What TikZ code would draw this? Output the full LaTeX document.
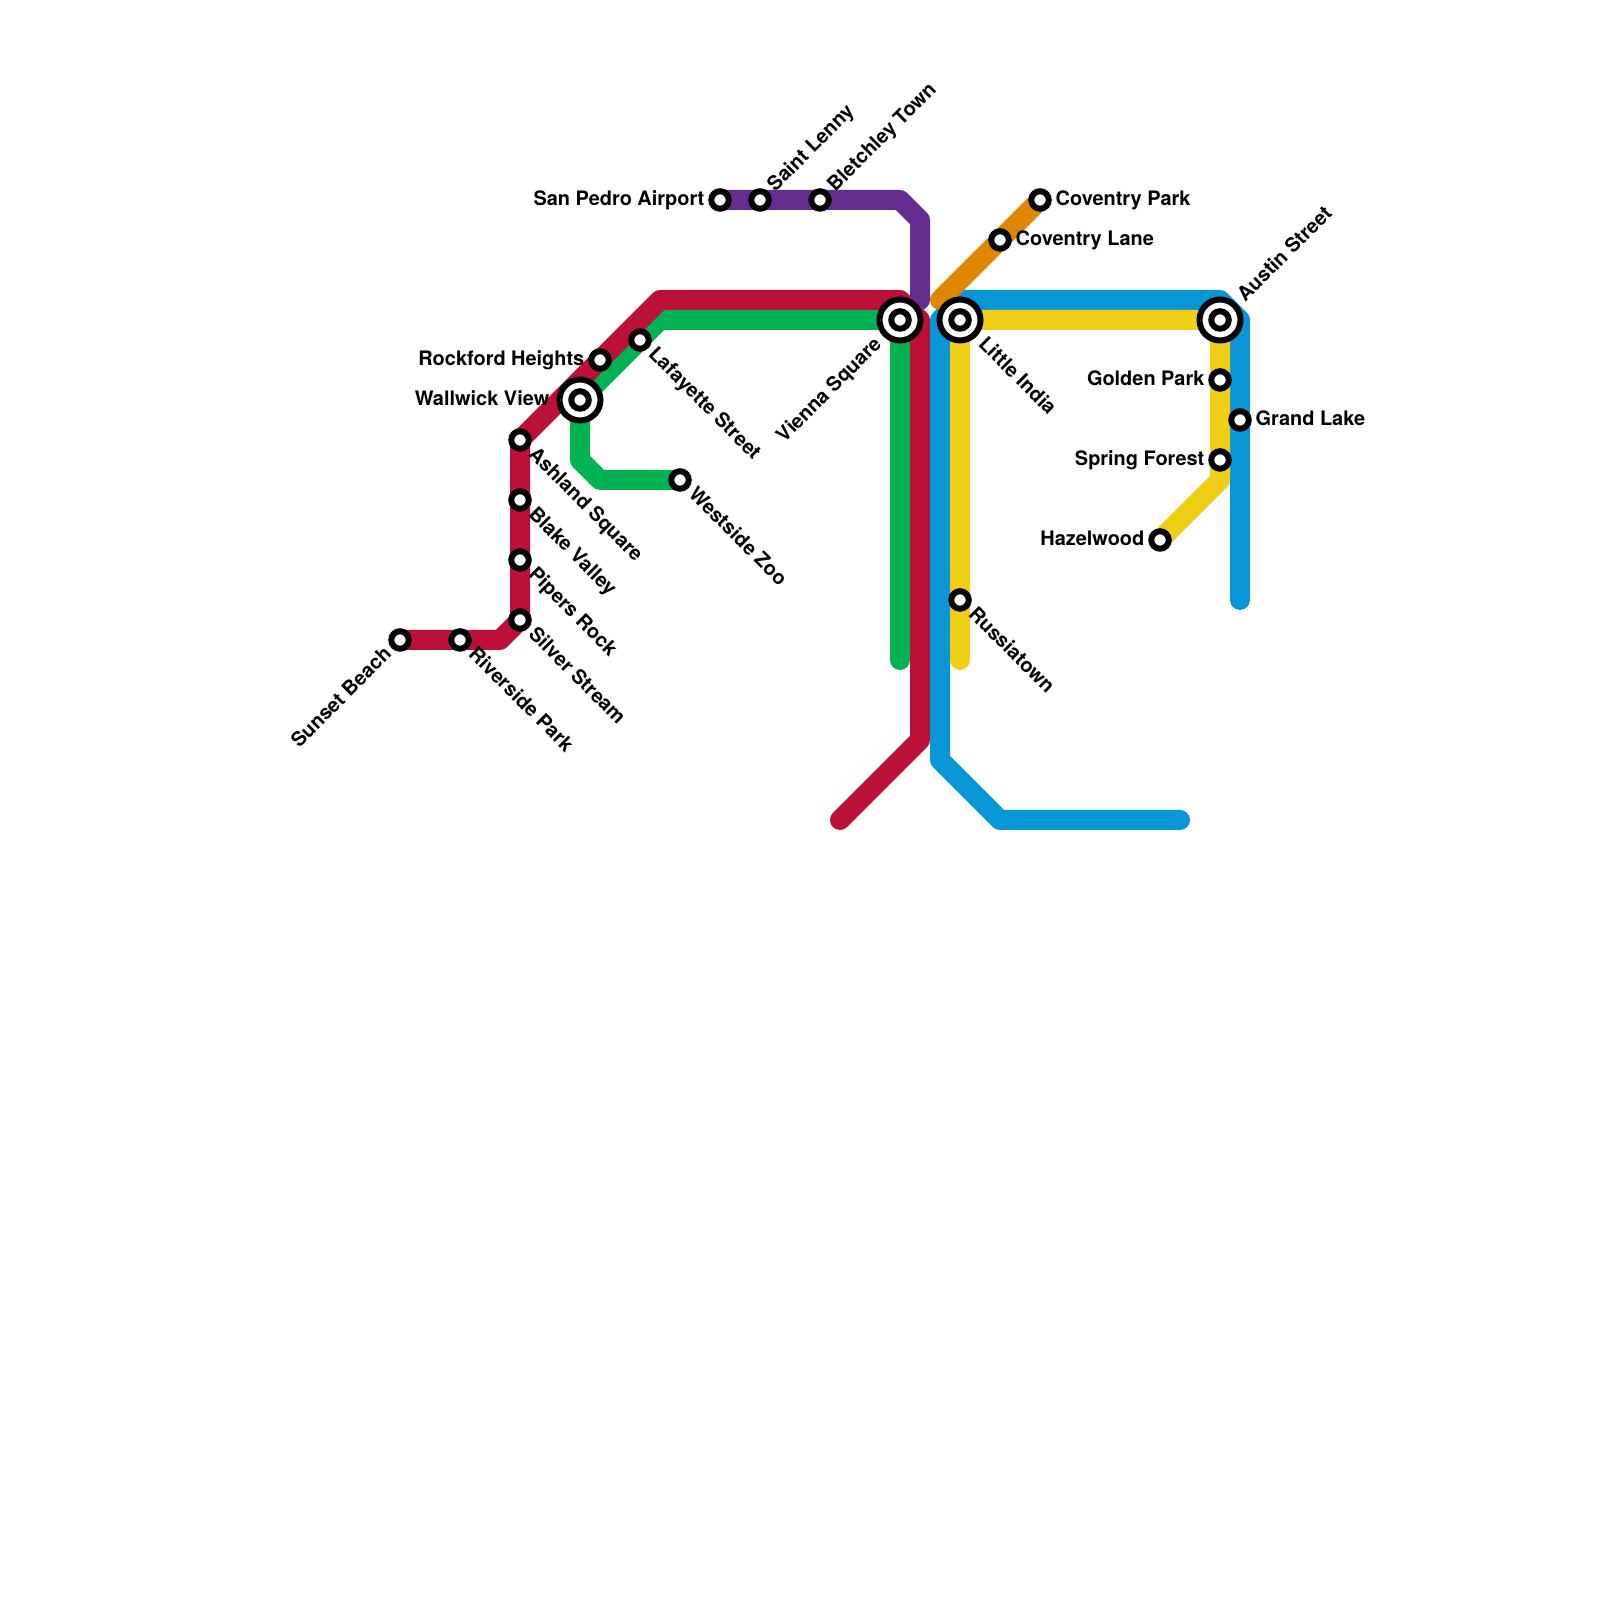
\documentclass[tikz,border=0pt]{standalone}
\usepackage{fontspec}
\setmainfont{TeX Gyre Heros}
\pgfdeclarelayer{lines}
\pgfsetlayers{lines,main}
\definecolor{redline}{HTML}{BD1038}
\definecolor{greenline}{HTML}{00B251}
\definecolor{purpleline}{HTML}{662C90}
\definecolor{orangeline}{HTML}{DF8600}
\definecolor{blueline}{HTML}{0896D7}
\definecolor{yellowline}{HTML}{F0CE15}
\tikzset{
	route/.style={line width=0.2cm, line cap=round, line join=round},
	station/.style={circle, draw=black, fill=white, line width=0.06cm, inner sep=0, outer sep=0, minimum size=0.175cm},
	hub/.style={circle, draw=black, fill=white, line width=0.06cm, inner sep=0, outer sep=0, minimum size=0.41cm},
	lbl/.style={inner sep=0, text height=0.14cm, text depth=0.03cm, font=\fontsize{5.67}{6}\selectfont\bfseries},
	lble/.style={shift={(0.15,0)}, lbl, anchor=west},
	lblw/.style={shift={(-#1,0)}, lbl, anchor=east},
	lblw/.default=0.15,
	lblne/.style={shift={(#1,#1)}, lbl, rotate=45, anchor=west},
	lblne/.default=0.11,
	lblse/.style={shift={(#1,-#1)}, lbl, rotate=-45, anchor=west},
	lblse/.default=0.11,
	lblsw/.style={shift={(-#1,-#1)}, lbl, rotate=45, anchor=east},
	lblsw/.default=0.11,
}
\begin{document}
\begin{tikzpicture}
	\useasboundingbox (0,0) rectangle (16,16);

	% interchanges
	\node [hub] (viennaring) at (9,12.8) {};
	\node [hub] (indiaring) at (9.6,12.8) {};
	\node [hub] (austinring) at (12.2,12.8) {};
	\node [hub] (wallwickring) at (5.8,12) {};

	% stations
	\node [station] (sunset) at (4,9.6) {};
	\node [station] (riverside) at (4.6,9.6) {};
	\node [station] (silver) at (5.2,9.8) {};
	\node [station] (pipers) at (5.2,10.4) {};
	\node [station] (blake) at (5.2,11) {};
	\node [station] (ashland) at (5.2,11.6) {};
	\node [station] (wallwick) at (5.8,12) {};
	\node [station] (rockford) at (6,12.4) {};
	\node [station] (lafayette) at (6.4,12.6) {};
	\node [station] (westside) at (6.8,11.2) {};
	\node [station] (vienna) at (9,12.8) {};
	\node [station] (india) at (9.6,12.8) {};
	\node [station] (russia) at (9.6,10) {};
	\node [station] (sanpedro) at (7.2,14) {};
	\node [station] (lenny) at (7.6,14) {};
	\node [station] (bletchley) at (8.2,14) {};
	\node [station] (covpark) at (10.4,14) {};
	\node [station] (covlane) at (10,13.6) {};
	\node [station] (austin) at (12.2,12.8) {};
	\node [station] (golden) at (12.2,12.2) {};
	\node [station] (spring) at (12.2,11.4) {};
	\node [station] (grand) at (12.4,11.8) {};
	\node [station] (hazel) at (11.6,10.6) {};

	% bends
	\coordinate (reda) at (5,9.6);
	\coordinate (redb) at (6.6,13);
	\coordinate (redc) at (9,13);
	\coordinate (redd) at (9.2,12.8);
	\coordinate (rede) at (9.2,8.6);
	\coordinate (redend) at (8.4,7.8);
	\coordinate (greena) at (6.6,12.8);
	\coordinate (greenend) at (9,9.4);
	\coordinate (greenb) at (5.8,11.4);
	\coordinate (greenc) at (6,11.2);
	\coordinate (purplea) at (9,14);
	\coordinate (purpleb) at (9.2,13.8);
	\coordinate (purpleend) at (9.2,13);
	\coordinate (orangeend) at (9.4,13);
	\coordinate (bluestart) at (12.4,10);
	\coordinate (bluea) at (12.4,12.8);
	\coordinate (blueb) at (12.2,13);
	\coordinate (bluec) at (9.6,13);
	\coordinate (blued) at (9.4,12.8);
	\coordinate (bluee) at (9.4,8.4);
	\coordinate (bluef) at (10,7.8);
	\coordinate (blueend) at (11.8,7.8);
	\coordinate (yellowstart) at (9.6,9.4);
	\coordinate (yellowa) at (12.2,11.2);

	% routes
	\begin{pgfonlayer}{lines}
		\draw [route, greenline] (wallwick.center)--(greena)--(vienna.center)--(greenend);
		\draw [route, greenline] (wallwick.center)--(greenb)--(greenc)--(westside.center);
		\draw [route, redline] (sunset.center)--(reda)--(silver.center)--(ashland.center)--(redb)--(redc)--(redd)--(rede)--(redend);
		\draw [route, purpleline] (sanpedro.center)--(purplea)--(purpleb)--(purpleend);
		\draw [route, blueline] (bluestart)--(bluea)--(blueb)--(bluec)--(blued)--(bluee)--(bluef)--(blueend);
		\draw [route, orangeline] (covpark.center)--(orangeend);
		\draw [route, yellowline] (yellowstart)--(india.center)--(austin.center)--(yellowa)--(hazel.center);
	\end{pgfonlayer}

	% labels
	\node [lblsw] (sunsetlbl) at (sunset) {Sunset Beach};
	\node [lblse] (riversidelbl) at (riverside) {Riverside Park};
	\node [lblse] (silverlbl) at (silver) {Silver Stream};
	\node [lblse] (piperslbl) at (pipers) {Pipers Rock};
	\node [lblse] (blakelbl) at (blake) {Blake Valley};
	\node [lblse] (ashlandlbl) at (ashland) {Ashland Square};
	\node [lblw=0.3] (wallwicklbl) at (wallwick) {Wallwick View};
	\node [lblw] (rockfordlbl) at (rockford) {Rockford Heights};
	\node [lblse] (lafayettelbl) at (lafayette) {Lafayette Street};
	\node [lblse] (westsidelbl) at (westside) {Westside Zoo};
	\node [lblsw=0.21] (viennalbl) at (vienna) {Vienna Square};
	\node [lblse=0.21] (indialbl) at (india) {Little India};
	\node [lblse] (russialbl) at (russia) {Russiatown};
	\node [lblw] (sanpedrolbl) at (sanpedro) {San Pedro Airport};
	\node [lblne] (lennylbl) at (lenny) {Saint Lenny};
	\node [lblne] (bletchleylbl) at (bletchley) {Bletchley Town};
	\node [lble] (covparklbl) at (covpark) {Coventry Park};
	\node [lble] (covlanelbl) at (covlane) {Coventry Lane};
	\node [lblne=0.21] (austinlbl) at (austin) {Austin Street};
	\node [lblw] (goldenlbl) at (golden) {Golden Park};
	\node [lblw] (springlbl) at (spring) {Spring Forest};
	\node [lble] (grandlbl) at (grand) {Grand Lake};
	\node [lblw] (hazellbl) at (hazel) {Hazelwood};
\end{tikzpicture}
\end{document}
